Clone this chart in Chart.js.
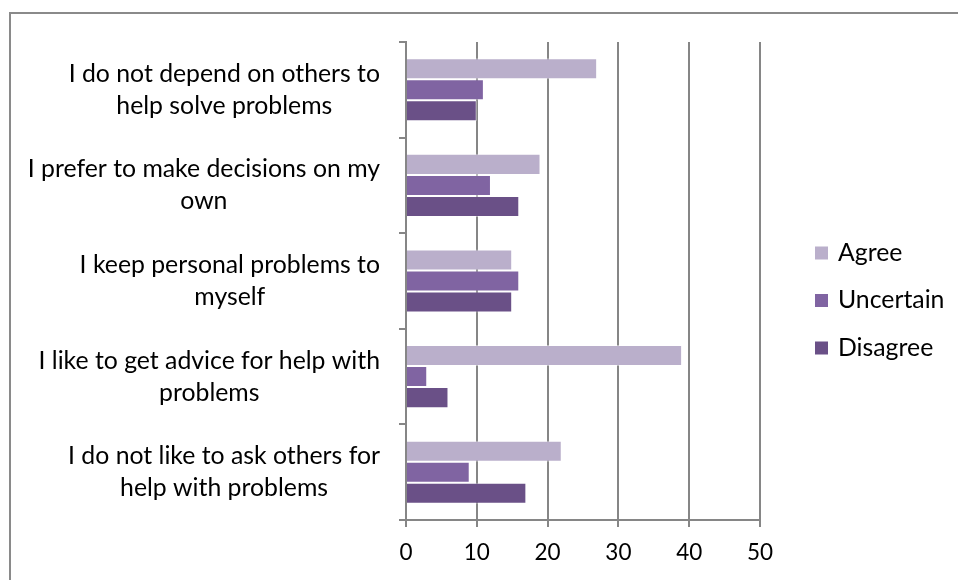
<!DOCTYPE html>
<html>
<head>
<meta charset="utf-8">
<script src="https://cdn.jsdelivr.net/npm/chart.js@4/dist/chart.umd.min.js"></script>
<style>
  html, body { margin: 0; padding: 0; background: #fff; overflow: hidden; }
  #frame { position: absolute; left: 9px; top: 12px; width: 960px; height: 580px;
           border-top: 2px solid #8a8a8a; border-left: 2px solid #8a8a8a; }
  #wrap { position: absolute; left: 0; top: 0; width: 958px; height: 580px; }
</style>
</head>
<body>
<div id="frame"></div>
<div id="wrap"><canvas id="chart"></canvas></div>
<script>
const categories = [
  ["I do not depend on others to", "help solve problems"],
  ["I prefer to make decisions on my", "own"],
  ["I keep personal problems to", "myself"],
  ["I like to get advice for help with", "problems"],
  ["I do not like to ask others for", "help with problems"]
];
const seriesNames = ["Agree", "Uncertain", "Disagree"];
const agree = [27, 19, 15, 39, 22];
const uncertain = [11, 12, 16, 3, 9];
const disagree = [10, 16, 15, 6, 17];
const xTicks = [0, 10, 20, 30, 40, 50];

const colors = ["#baafcb", "#8064a2", "#6a5087"];
const FONT = "Lato";
const LABEL_SIZE = 24.8;
const gray = "#868686";

// category labels: each label right-aligned as a block, lines centred inside it
const catLabels = {
  id: "catLabels",
  afterDraw(chart) {
    const ctx = chart.ctx;
    const y = chart.scales.y;
    ctx.save();
    ctx.font = LABEL_SIZE + "px " + FONT;
    ctx.fillStyle = "#000";
    ctx.textAlign = "center";
    ctx.textBaseline = "middle";
    categories.forEach((lines, i) => {
      const cy = y.getPixelForValue(i);
      const widest = Math.max(...lines.map(l => ctx.measureText(l).width));
      const cx = y.right - 26 - widest / 2;
      const lh = 32;
      lines.forEach((l, j) => {
        ctx.fillText(l, cx, cy + (j - (lines.length - 1) / 2) * lh);
      });
    });
    ctx.restore();
  }
};

const sideLegend = {
  id: "sideLegend",
  afterDraw(chart) {
    const ctx = chart.ctx;
    ctx.save();
    ctx.font = LABEL_SIZE + "px " + FONT;
    ctx.textBaseline = "middle";
    ctx.textAlign = "left";
    chart.data.datasets.forEach((ds, i) => {
      const cy = 253 + i * 47.5;
      ctx.fillStyle = ds.backgroundColor;
      ctx.fillRect(815, cy - 6.5, 13, 13);
      ctx.fillStyle = "#000";
      ctx.fillText(ds.label, 838, cy);
    });
    ctx.restore();
  }
};

new Chart(document.getElementById("chart"), {
  type: "bar",
  data: {
    labels: categories,
    datasets: [agree, uncertain, disagree].map((d, i) => ({
      label: seriesNames[i],
      data: d,
      backgroundColor: colors[i],
      borderColor: "rgba(255,255,255,0.45)",
      borderWidth: 1,
      categoryPercentage: 0.66,
      barPercentage: 1
    }))
  },
  options: {
    indexAxis: "y",
    responsive: true,
    maintainAspectRatio: false,
    animation: false,
    layout: { padding: { top: 42, right: 198, left: 0, bottom: 0 } },
    plugins: { legend: { display: false }, tooltip: { enabled: false } },
    scales: {
      x: {
        min: 0,
        max: 50,
        afterBuildTicks: s => { s.ticks = xTicks.map(v => ({ value: v })); },
        ticks: { color: "#000", font: { family: FONT, size: 22.5 }, padding: 12 },
        grid: { color: gray, lineWidth: 2, tickLength: 7 },
        border: { color: gray, width: 2 },
        afterFit: s => { s.height = 60; }
      },
      y: {
        ticks: { display: false },
        grid: { drawOnChartArea: false, offset: true, color: gray, lineWidth: 2, tickLength: 7 },
        border: { color: gray, width: 2 },
        afterFit: s => { s.width = 406; }
      }
    }
  },
  plugins: [catLabels, sideLegend]
});
</script>
</body>
</html>
